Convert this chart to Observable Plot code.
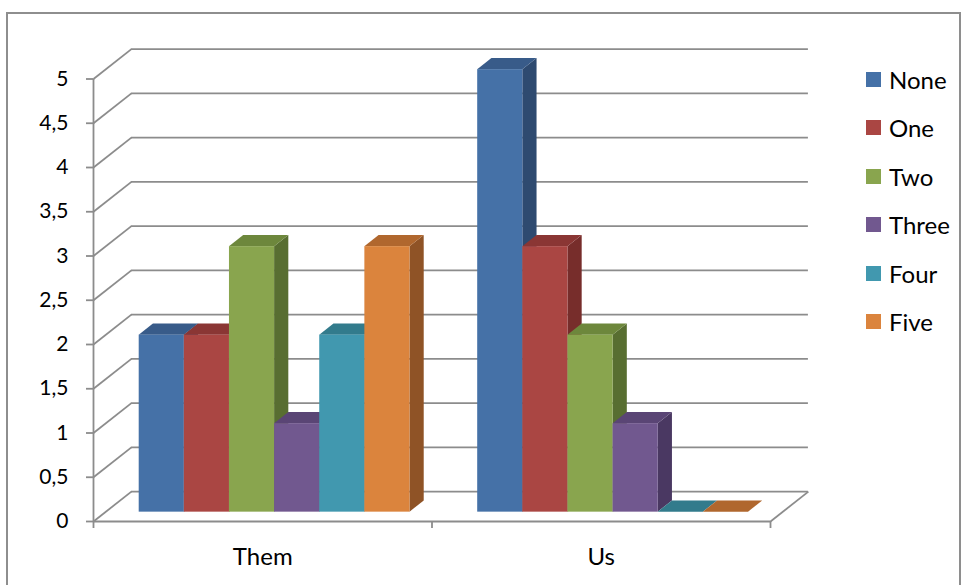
<!DOCTYPE html>
<html>
<head>
<meta charset="utf-8">
<script src="https://cdn.jsdelivr.net/npm/d3@7"></script>
<script src="https://cdn.jsdelivr.net/npm/@observablehq/plot@0.6"></script>
<style>
  html, body { margin: 0; padding: 0; background: #fff; }
  #chart { position: relative; width: 965px; height: 585px; overflow: hidden; font-family: Lato, "Open Sans", sans-serif; }
  #chart svg { position: absolute; left: 0; top: 0; }
  .frame { position: absolute; left: 6px; top: 12px; width: 955px; height: 640px; border: 2px solid #8e8e8e; box-sizing: border-box; pointer-events: none; }
  .legend { position: absolute; left: 866px; top: 55px; }
  .legend .item { position: absolute; left: 0; height: 30px; display: flex; align-items: center; white-space: nowrap; font-size: 24px; color: #000; }
  .legend .sw { width: 15px; height: 15px; margin-right: 8px; flex: none; }
</style>
</head>
<body>
<div id="chart"><div class="frame"></div></div>
<script>
// Categories, series and values
const categories = ["Them", "Us"];
const series = ["None", "One", "Two", "Three", "Four", "Five"];
const themValues = [2, 2, 3, 1, 2, 3];
const usValues = [5, 3, 2, 1, 0, 0];
const yTickValues = [0, 0.5, 1, 1.5, 2, 2.5, 3, 3.5, 4, 4.5, 5];

// Face shading per series: front, top and side
const frontColors = ["#4571a7", "#aa4643", "#89a54e", "#71588f", "#4198af", "#db843d"];
const topColors   = ["#385b89", "#8a3634", "#6d873c", "#5a4575", "#327b8c", "#b0672e"];
const sideColors  = ["#2e4a70", "#772d2b", "#586e31", "#4a3862", "#2a6775", "#8f5326"];

// Pseudo-3D geometry (in x units of one category, y in value units)
const gapWidth = 1.5;                       // gap between clusters, in bar widths
const barW = 1 / (series.length + gapWidth);
const depthX = 0.112, depthY = 0.338;       // floor depth projected on x and y
const barFront = 0.3125, barDepth = 0.375;  // bar placement within the depth

const valuesByCategory = [themValues, usValues];
const bars = categories.flatMap((c, ci) => series.map((s, si) => {
  const v = valuesByCategory[ci][si];
  const x0 = ci + (gapWidth / 2) * barW + si * barW + barFront * depthX;
  const b = barFront * depthY;
  return {id: `${c}-${s}`, category: c, series: s, si, value: v,
          x0, x1: x0 + barW, b, t: v + b};
}));
const bx = barDepth * depthX, by = barDepth * depthY;

const sides = bars.filter(d => d.value > 0).flatMap(d => [
  {id: d.id, si: d.si, x: d.x1, lo: d.b, hi: d.t},
  {id: d.id, si: d.si, x: d.x1 + bx, lo: d.b + by, hi: d.t + by}
]);
const tops = bars.flatMap(d => [
  {id: d.id, si: d.si, y: d.t, lo: d.x0, hi: d.x1},
  {id: d.id, si: d.si, y: d.t + by, lo: d.x0 + bx, hi: d.x1 + bx}
]);

const commaFormat = d3.formatLocale({decimal: ",", thousands: ".", grouping: [3], currency: ["", ""]}).format("~g");
const gridColor = "#8c8c8c";
const gridWidth = 1.8;

const chart = Plot.plot({
  width: 965,
  height: 585,
  marginLeft: 93,
  marginRight: 195,
  marginTop: 78.5,
  marginBottom: 64,
  style: {fontFamily: "Lato, 'Open Sans', sans-serif", fontSize: "21px", color: "#000", background: "transparent"},
  x: {domain: [0, categories.length], axis: null},
  y: {domain: [0, 5], axis: null},
  marks: [
    // back wall
    Plot.ruleY(yTickValues, {y: d => d + depthY, x1: depthX, x2: categories.length + depthX, stroke: gridColor, strokeWidth: gridWidth}),
    // side wall
    Plot.link(yTickValues, {x1: 0, y1: d => d, x2: depthX, y2: d => d + depthY, stroke: gridColor, strokeWidth: gridWidth}),
    // floor right edge
    Plot.link([categories.length], {x1: d => d, y1: 0, x2: d => d + depthX, y2: depthY, stroke: gridColor, strokeWidth: gridWidth}),
    // bar sides, tops, fronts
    Plot.areaY(sides, {x: "x", y1: "lo", y2: "hi", z: "id", fill: d => sideColors[d.si], curve: "linear"}),
    Plot.areaX(tops, {y: "y", x1: "lo", x2: "hi", z: "id", fill: d => topColors[d.si], curve: "linear"}),
    Plot.rect(bars.filter(d => d.value > 0), {x1: "x0", x2: "x1", y1: "b", y2: "t", fill: d => frontColors[d.si], inset: 0}),
    // axes
    Plot.ruleX([0], {y1: 0, y2: 5, stroke: gridColor, strokeWidth: gridWidth}),
    Plot.ruleY([0], {x1: 0, x2: categories.length, stroke: gridColor, strokeWidth: gridWidth}),
    Plot.axisY(yTickValues, {tickSize: 7, tickPadding: 18, tickFormat: commaFormat, stroke: gridColor, strokeWidth: gridWidth, fill: "#000", fontSize: 21}),
    Plot.axisX(d3.range(categories.length + 1), {tickSize: 7, tickFormat: () => "", stroke: gridColor, strokeWidth: gridWidth}),
    Plot.axisX(categories.map((c, i) => i + 0.5), {tickSize: 0, tickPadding: 26, tickFormat: d => categories[Math.floor(d)], fill: "#000", fontSize: 24})
  ]
});

const root = document.getElementById("chart");
root.insertBefore(chart, root.firstChild);

// Legend
const legend = document.createElement("div");
legend.className = "legend";
series.forEach((s, i) => {
  const item = document.createElement("div");
  item.className = "item";
  item.style.top = `${9 + i * 48.5}px`;
  const sw = document.createElement("span");
  sw.className = "sw";
  sw.style.background = frontColors[i];
  const label = document.createElement("span");
  label.textContent = s;
  item.append(sw, label);
  legend.append(item);
});
root.append(legend);
</script>
</body>
</html>
